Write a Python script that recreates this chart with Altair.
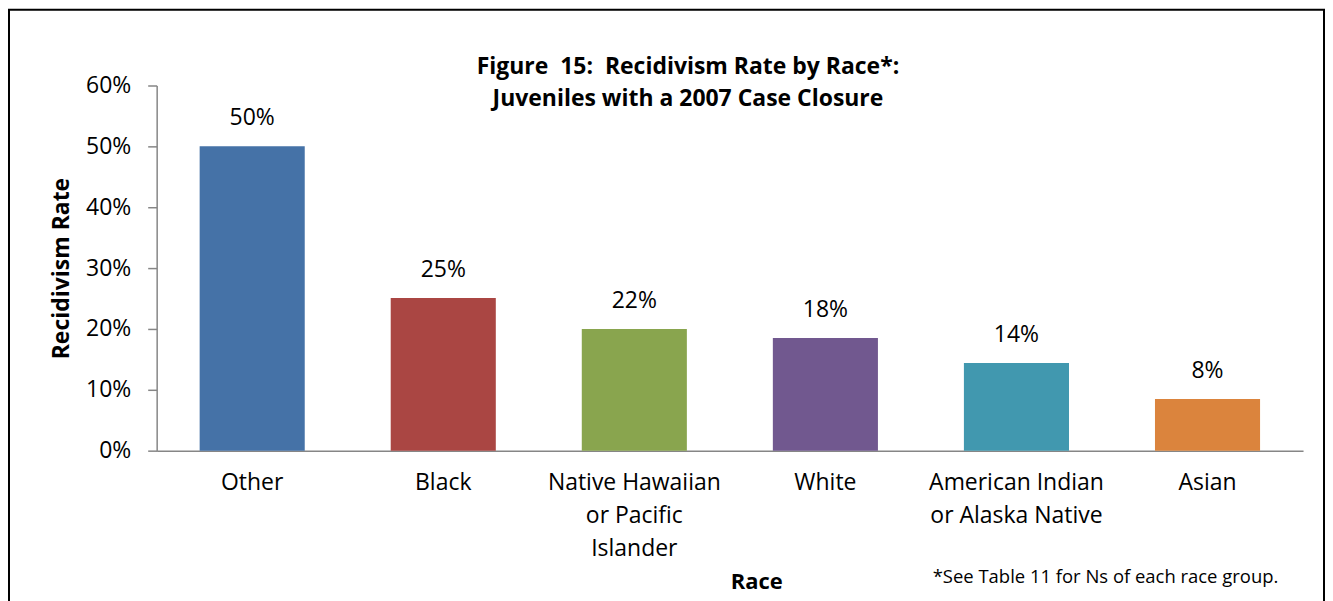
import altair as alt
import pandas as pd

categories = ["Other", "Black", "Native Hawaiian|or Pacific|Islander", "White",
              "American Indian|or Alaska Native", "Asian"]
rates = [0.50, 0.251, 0.200, 0.185, 0.144, 0.085]
rate_labels = ["50%", "25%", "22%", "18%", "14%", "8%"]
colors = ["#4572A7", "#AA4643", "#89A54E", "#71588F", "#4198AF", "#DB843D"]
title_lines = ["Figure\u00a0 15:\u00a0 Recidivism Rate by Race*:", "Juveniles with a 2007 Case Closure"]
footnote = "*See Table 11 for Ns of each race group."

FONT = "Open Sans"

df = pd.DataFrame({"race": categories, "rate": rates, "label": rate_labels})

x_enc = alt.X("race:N", sort=categories,
              scale=alt.Scale(paddingInner=0.45, paddingOuter=0.225),
              axis=alt.Axis(title="Race", labelExpr="split(datum.label, '|')",
                            labelAngle=0, labelFontSize=23, labelFont=FONT,
                            labelColor="#000000", labelLineHeight=33,
                            labelPadding=21, labelBaseline="top",
                            ticks=False, domainColor="#868686", domainWidth=1.5,
                            titleFont=FONT, titleFontSize=22, titleFontWeight="bold",
                            titleColor="#000000", titleX=601, titleY=138,
                            titleBaseline="alphabetic", titleAnchor="start", titleAlign="center"))

y_enc = alt.Y("rate:Q",
              scale=alt.Scale(domain=[0, 0.6], nice=False),
              axis=alt.Axis(title="Recidivism Rate", format=".0%", values=[0, 0.1, 0.2, 0.3, 0.4, 0.5, 0.6],
                            grid=False, tickSize=9, tickColor="#868686", tickWidth=1.5,
                            domainColor="#868686", domainWidth=1.5,
                            labelFont=FONT, labelFontSize=23, labelColor="#000000",
                            labelPadding=17,
                            titleFont=FONT, titleFontSize=23, titleFontWeight="bold",
                            titleColor="#000000", titleX=-95, titleY=183,
                            titleAngle=-90, titleBaseline="middle", titleAlign="center"))

bars = alt.Chart(df).mark_bar().encode(
    x=x_enc, y=y_enc,
    color=alt.Color("race:N", sort=categories,
                    scale=alt.Scale(domain=categories, range=colors), legend=None),
)

texts = alt.Chart(df).mark_text(baseline="middle", dy=-28, fontSize=23, font=FONT,
                                color="#000000").encode(
    x=alt.X("race:N", sort=categories), y="rate:Q", text="label:N")

deco = pd.DataFrame({"note": [footnote]})
border = alt.Chart(deco).mark_rect(filled=False, stroke="#000000", strokeWidth=2).encode(
    x=alt.value(-148), x2=alt.value(1170), y=alt.value(-76), y2=alt.value(620))
note = alt.Chart(deco).mark_text(fontSize=18.5, font=FONT, color="#000000", align="center",
                                 baseline="middle").encode(
    x=alt.value(951), y=alt.value(493), text="note:N")

chart = alt.layer(bars, texts, note, border).properties(
    width=1149, height=366,
    background="#ffffff",
    title=alt.Title(title_lines, font=FONT, fontSize=23, fontWeight="bold", color="#000000",
                    anchor="middle", dx=-42, dy=93, offset=-10, lineHeight=33),
    autosize=alt.AutoSizeParams(type="none"),
    padding={"left": 149, "top": 77, "right": 22, "bottom": 150},
).configure_view(stroke=None)

chart.save("out.html", embed_options={"renderer": "svg", "actions": False})
